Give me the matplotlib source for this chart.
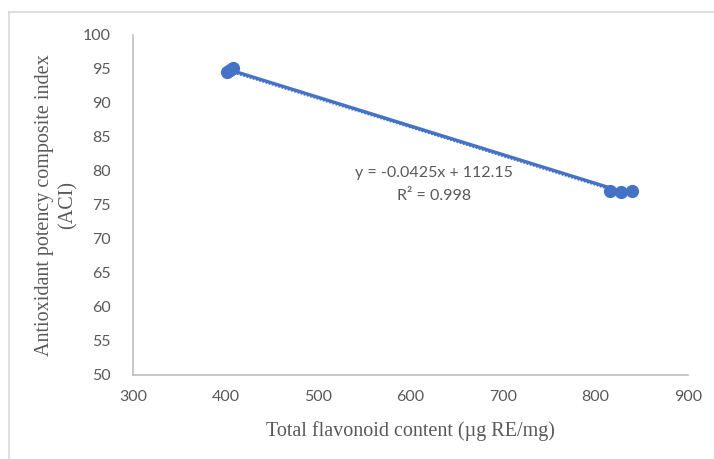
import numpy as np
import matplotlib
matplotlib.use("Agg")
import matplotlib.pyplot as plt
from matplotlib.lines import Line2D

# Data
tfc = [402, 405, 408, 816, 828, 839]          # Total flavonoid content (µg RE/mg)
aci = [94.6, 94.9, 95.1, 77.0, 76.9, 77.1]    # Antioxidant potency composite index
x_ticks = [300, 400, 500, 600, 700, 800, 900]
y_ticks = [50, 55, 60, 65, 70, 75, 80, 85, 90, 95, 100]
equation = "y = -0.0425x + 112.15"
r2_text = "R\u00b2 = 0.998"

blue = "#4472C4"
gray = "#595959"

fig = plt.figure(figsize=(7.14, 4.59), dpi=100)
W, H = 714, 459
ax = fig.add_axes([133 / W, (H - 375) / H, 555 / W, 340 / H])

# outer chart border (top and left visible)
fig.add_artist(Line2D([9 / W, 1], [1 - 12 / H, 1 - 12 / H], color="#d9d9d9", lw=1.2))
fig.add_artist(Line2D([9 / W, 9 / W], [0, 1 - 12 / H], color="#d9d9d9", lw=1.2))

# linear trendline
coef = np.polyfit(tfc, aci, 1)
xs = np.array([min(tfc), max(tfc)])
ax.plot(xs, np.polyval(coef, xs), color=blue, lw=2.4, solid_capstyle="round", zorder=2)
ax.plot(xs, np.polyval(coef, xs) - 0.25, color=blue, lw=1.2, ls=(0, (1, 1)), zorder=2)
ax.plot(tfc, aci, "o", color=blue, markersize=8.5, zorder=3)

ax.set_xlim(300, 900)
ax.set_ylim(50, 100)
ax.set_xticks(x_ticks)
ax.set_yticks(y_ticks)
ax.tick_params(length=0, labelsize=11.5, labelcolor=gray)
ax.tick_params(axis="x", pad=11)
ax.tick_params(axis="y", pad=16)
for lab in ax.get_xticklabels() + ax.get_yticklabels():
    lab.set_family("Lato")

for s in ["top", "right"]:
    ax.spines[s].set_visible(False)
for s in ["left", "bottom"]:
    ax.spines[s].set_color("#bfbfbf")
    ax.spines[s].set_linewidth(1.2)

ax.set_xlabel("Total flavonoid content (\u00b5g RE/mg)", family="Liberation Serif",
              fontsize=14.5, color=gray, labelpad=12)
ax.set_ylabel("Antioxidant potency composite index\n(ACI)", family="Liberation Serif",
              fontsize=14.5, color=gray, labelpad=4, linespacing=1.25)

ax.text(625, 79.7, equation, ha="center", va="center", fontsize=11.5,
        family="Lato", color=gray)
ax.text(625, 76.3, r2_text, ha="center", va="center", fontsize=11.5,
        family="Lato", color=gray)

fig.savefig("out.png", dpi=100)
